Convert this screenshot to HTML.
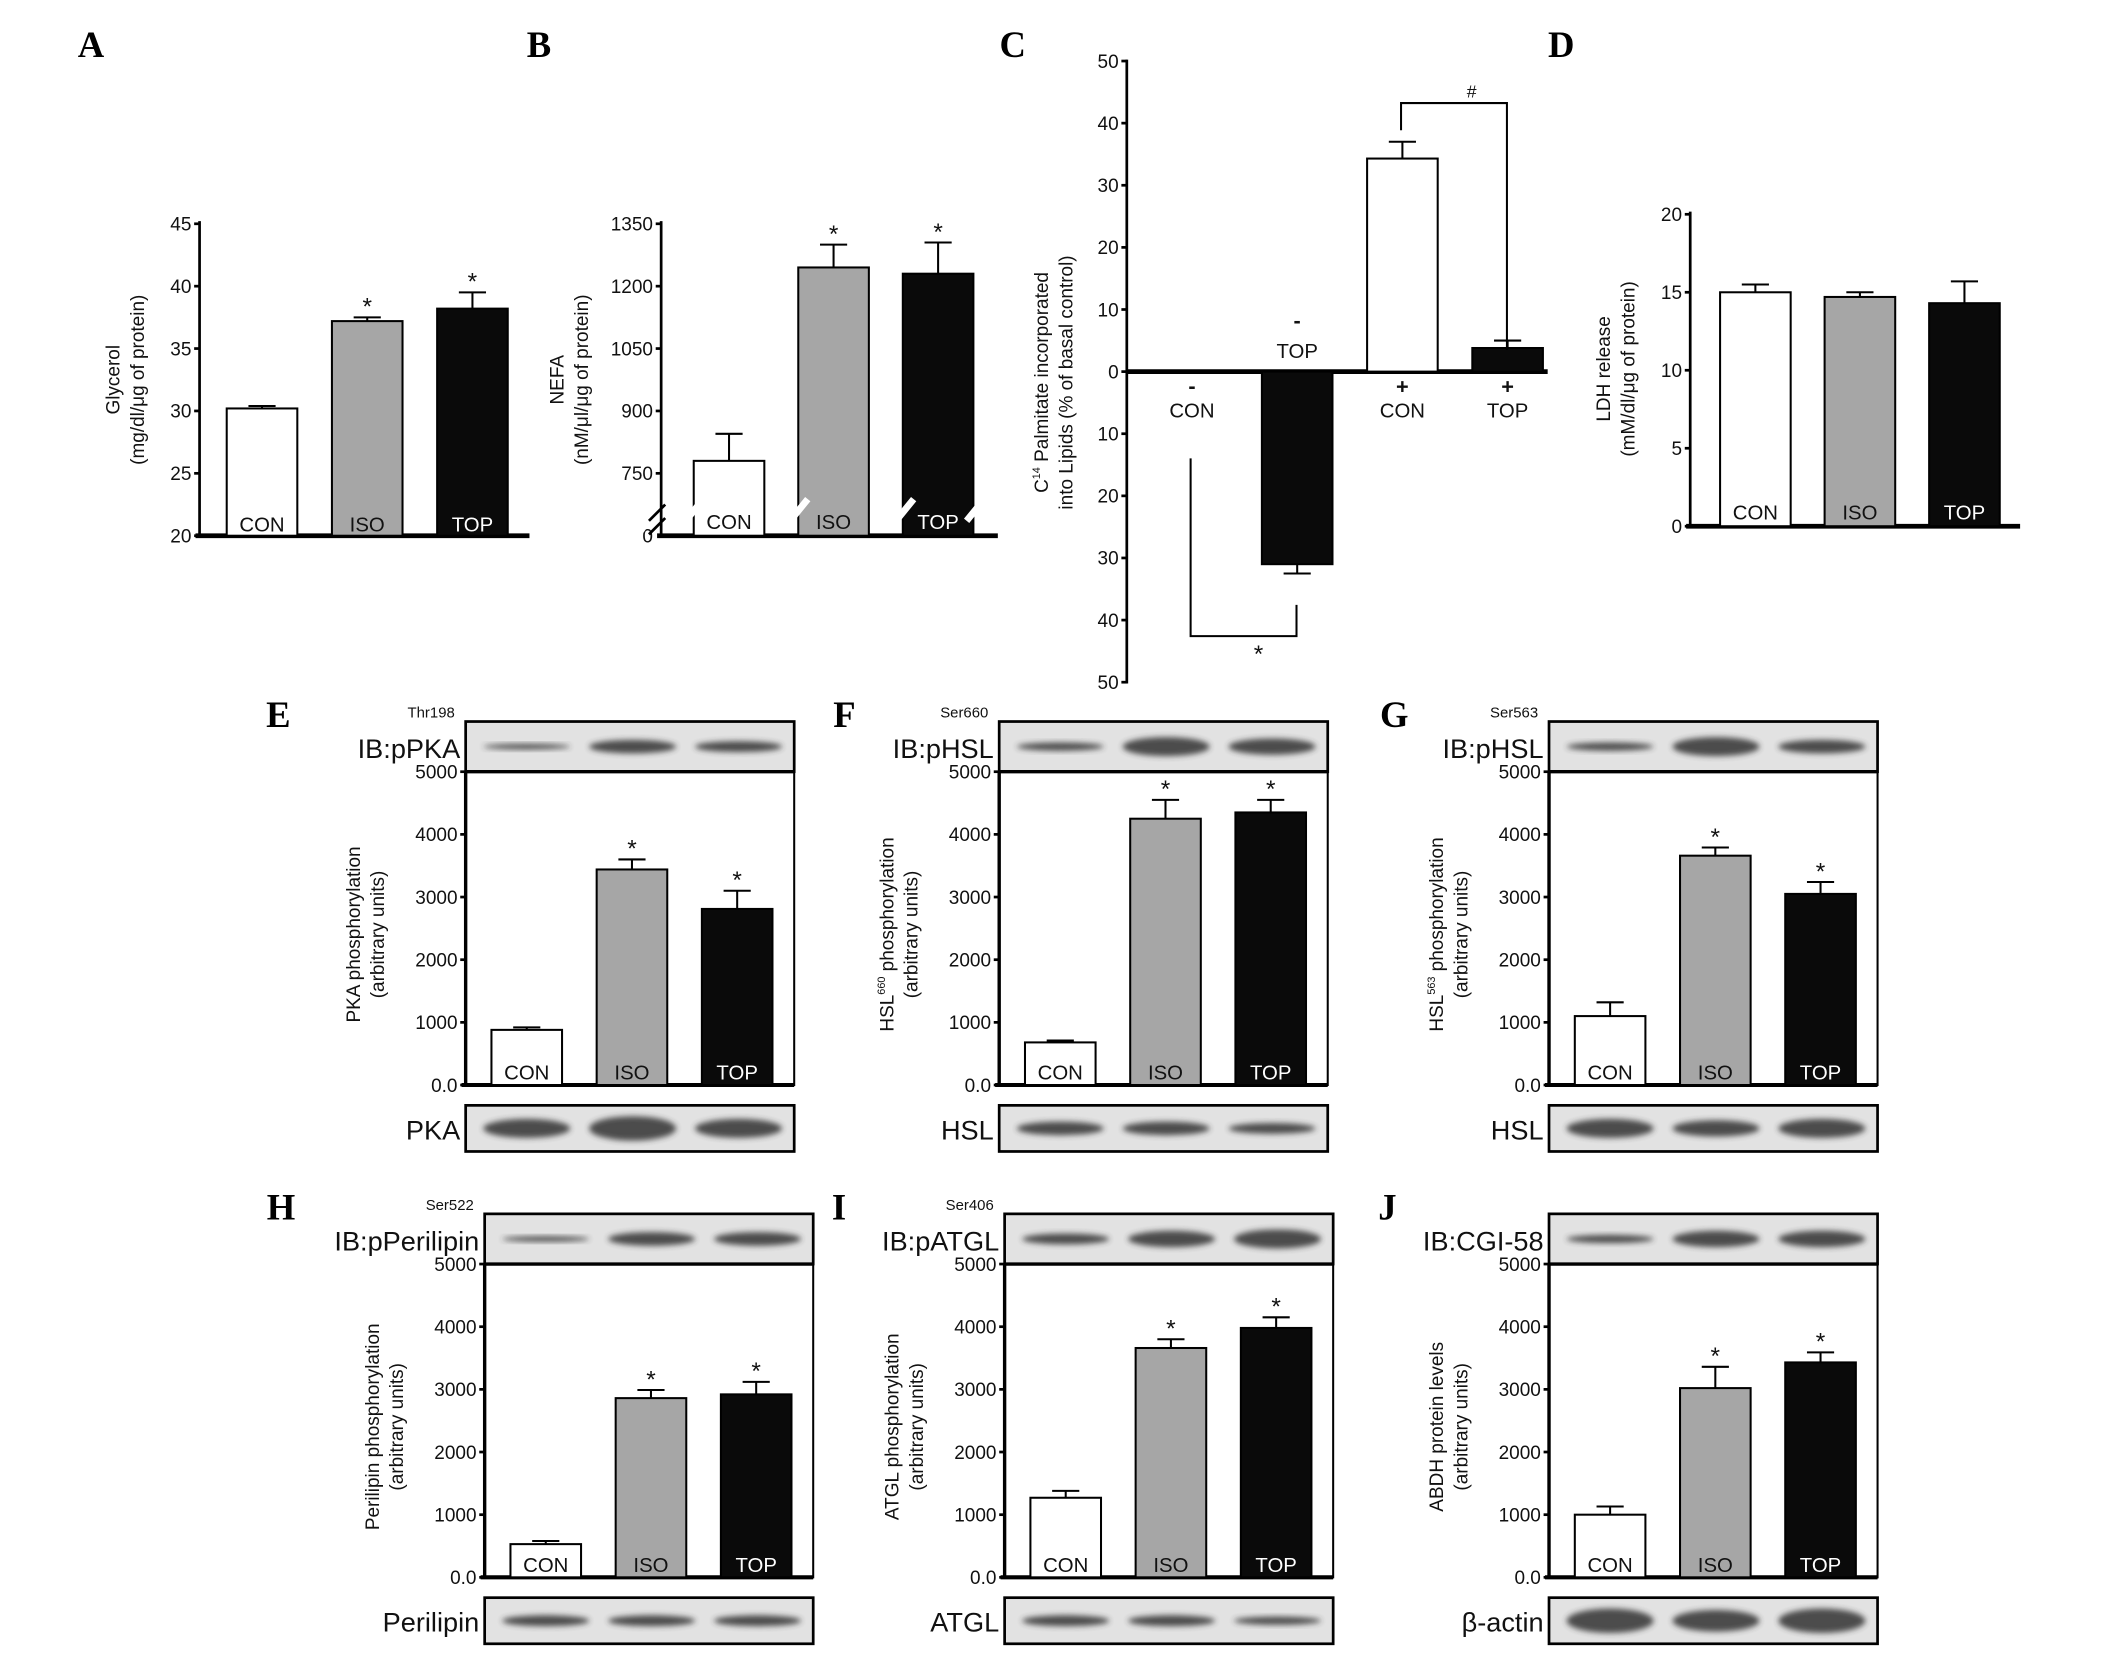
<!DOCTYPE html>
<html><head><meta charset="utf-8">
<style>
html,body{margin:0;padding:0;background:#fff;}
svg{display:block;font-family:"Liberation Sans",Arial,sans-serif;}
.t{font-size:14px;fill:#111;}
.lt{font-family:"Liberation Serif",serif;font-weight:bold;font-size:27px;fill:#000;}
</style></head>
<body>
<svg id="fig" width="2126" height="1656" viewBox="0 0 1566 1221" preserveAspectRatio="none" xmlns="http://www.w3.org/2000/svg">
<defs><filter id="blur" x="-20%" y="-50%" width="140%" height="200%"><feGaussianBlur stdDeviation="2.2"/></filter></defs>
<rect x="0" y="0" width="1566" height="1221" fill="#fff"/>
</svg>
<script>
const groups = ["CON","ISO","TOP"];
const fills = ["#ffffff","#a6a6a6","#0a0a0a"];
const aVals = [30.2, 37.2, 38.2];
const aErrs = [0.2, 0.3, 1.3];
const aTicks = [20,25,30,35,40,45];
const bVals = [780, 1245, 1230];
const bErrs = [65, 55, 75];
const bTicks = [750,900,1050,1200,1350];
const cGroups = ["CON","TOP","CON","TOP"];
const cSigns = ["-","-","+","+"];
const cVals = [0, -31, 34.3, 3.8];
const cErrs = [0, 1.5, 2.7, 1.2];
const cTicks = [-50,-40,-30,-20,-10,0,10,20,30,40,50];
const dVals = [15.0, 14.7, 14.3];
const dErrs = [0.5, 0.3, 1.4];
const dTicks = [0,5,10,15,20];
const wTicks = [0,1000,2000,3000,4000,5000];
const eVals = [880, 3440, 2810];
const eErrs = [40, 160, 290];
const fVals = [680, 4250, 4350];
const fErrs = [30, 300, 200];
const gVals = [1100, 3660, 3050];
const gErrs = [220, 130, 190];
const hVals = [530, 2860, 2920];
const hErrs = [50, 130, 200];
const iVals = [1270, 3660, 3980];
const iErrs = [110, 140, 170];
const jVals = [1000, 3020, 3430];
const jErrs = [130, 340, 160];

const svg = document.getElementById('fig');
const NS = "http://www.w3.org/2000/svg";
function mk(tag, attrs, parent){
  const e = document.createElementNS(NS, tag);
  for (const k in attrs) e.setAttribute(k, attrs[k]);
  (parent||svg).appendChild(e);
  return e;
}
function txt(s, x, y, size, anchor, parent, extra){
  const t = mk('text', Object.assign({x:x, y:y, 'font-size':size, 'text-anchor':anchor||'middle', fill:'#111'}, extra||{}), parent);
  t.textContent = s;
  return t;
}
function lin(d0,d1,p0,p1){ return v => p0 + (v-d0)*(p1-p0)/(d1-d0); }

function panelLetter(s,x,y){
  const t = mk('text',{x:x,y:y,class:'lt','text-anchor':'middle'});
  
  
  t.textContent = s;
}

function yLabel(lines, x, cy, g, size){
  lines.forEach((l,i)=>{
    const t = txt('', x + i*18, cy, size||14, 'middle', g, {transform:`rotate(-90 ${x+i*18} ${cy})`});
    t.innerHTML = l;
    
    
  });
}

function bars(g, name, vals, errs, y, axisX, off, step, w, base, stars, labelY){
  vals.forEach((v,i)=>{
    const x = axisX + off + i*step;
    const top = Math.min(y(v), y(base)), h = Math.abs(y(v)-y(base));
    const r = mk('rect',{x:x,y:top,width:w,height:h,fill:fills[i],stroke:'#000','stroke-width':1.5},g);
    
    
    const ye = y(v+errs[i]);
    const cx = x + w/2;
    const el = mk('path',{d:`M${cx} ${y(v)}V${ye}M${cx-10} ${ye}H${cx+10}`,stroke:'#000','stroke-width':1.5,fill:'none'},g);
    
    
    if (stars && stars[i]){
      const s = txt('*', cx, ye-2, 18, 'middle', g);
      
      
    }
    const lb = txt(groups[i], cx, labelY, 15, 'middle', g, {fill: i==2?'#fff':'#111'});
    
    
  });
}

// Panel A
(function(){
  const g = mk('g',{});  
  panelLetter('A',67,42);
  const y = lin(20,45,395,165), ax=147;
  mk('line',{x1:ax,y1:163,x2:ax,y2:396,stroke:'#000','stroke-width':2},g);
  mk('line',{x1:144,y1:395,x2:390,y2:395,stroke:'#000','stroke-width':3.5},g);
  aTicks.forEach(t=>{ mk('line',{x1:ax-4,y1:y(t),x2:ax,y2:y(t),stroke:'#000','stroke-width':2},g);
    const tl=txt(t,ax-6,y(t)+5,14,'end',g);   });
  bars(g,'a',aVals,aErrs,y,ax,20,77.5,52,20,[0,1,1],392);
  yLabel(['Glycerol','(mg/dl/&#956;g of protein)'],88,280,g);
})();

// Panel B
(function(){
  const g = mk('g',{});  
  panelLetter('B',397,42);
  const y = lin(600,1350,395,165), ax=487;
  mk('line',{x1:ax,y1:163,x2:ax,y2:396,stroke:'#000','stroke-width':2},g);
  mk('line',{x1:484,y1:395,x2:735,y2:395,stroke:'#000','stroke-width':3.5},g);
  bTicks.forEach(t=>{ mk('line',{x1:ax-4,y1:y(t),x2:ax,y2:y(t),stroke:'#000','stroke-width':2},g);
    const tl=txt(t,ax-6,y(t)+5,14,'end',g);   });
  const z=txt('0',ax-6,400,14,'end',g);  
  bars(g,'b',bVals,bErrs,y,ax,24,77,52,600,[0,1,1],390);
  const br = mk('path',{d:'M470 384 L480 370 M470 394 L480 380 M505 384 L518 368 M582 384 L595 368 M660 384 L673 368 M712 384 L725 368',stroke:'#fff','stroke-width':5,fill:'none'},g);
   
  mk('path',{d:'M478 384 L490 372 M478 394 L490 382',stroke:'#000','stroke-width':2,fill:'none'},g);
  yLabel(['NEFA','(nM/&#956;l/&#956;g of protein)'],415,280,g);
})();

// Panel C
(function(){
  const g = mk('g',{});  
  panelLetter('C',746,42);
  const y = lin(-50,50,503,45), ax=830;
  mk('line',{x1:ax,y1:44,x2:ax,y2:504,stroke:'#000','stroke-width':2},g);
  mk('line',{x1:ax,y1:274,x2:1140,y2:274,stroke:'#000','stroke-width':3.5},g);
  cTicks.forEach(t=>{ mk('line',{x1:ax-4,y1:y(t),x2:ax,y2:y(t),stroke:'#000','stroke-width':2},g);
    const tl=txt(Math.abs(t),ax-6,y(t)+5,14,'end',g);   });
  cVals.forEach((v,i)=>{
    const x = 852 + i*77.5, w=52, cx=x+w/2;
    if (v!==0){
      const r = mk('rect',{x:x,y:Math.min(y(v),y(0)),width:w,height:Math.abs(y(v)-y(0)),fill:i==2?'#fff':'#0a0a0a',stroke:'#000','stroke-width':1.5},g);
      
      
      const e = v + (v<0?-cErrs[i]:cErrs[i]);
      const p = mk('path',{d:`M${cx} ${y(v)}V${y(e)}M${cx-10} ${y(e)}H${cx+10}`,stroke:'#000','stroke-width':1.5,fill:'none'},g);
       
    }
    const above = v<0;
    const sy = above?242:290, ly = above?264:308;
    const s1=txt(cSigns[i],cx,sy,16,'middle',g,{'font-weight':'bold'});  
    const s2=txt(cGroups[i],cx,ly,15,'middle',g);  
  });
  const b1 = mk('path',{d:'M877 338V469H955V446',stroke:'#000','stroke-width':1.5,fill:'none'},g);
   
  const s=txt('*',927,488,18,'middle',g);  
  const b2 = mk('path',{d:'M1032 96V76H1110V258',stroke:'#000','stroke-width':1.5,fill:'none'},g);
   
  const h=txt('#',1084,72,13,'middle',g);  
  yLabel(['C<tspan font-size="8" dy="-6">14</tspan><tspan dy="6"> Palmitate incorporated</tspan>','into Lipids (% of basal control)'],772,282,g);
})();

// Panel D
(function(){
  const g = mk('g',{});  
  panelLetter('D',1150,42);
  const y = lin(0,20,388,158), ax=1245;
  mk('line',{x1:ax,y1:156,x2:ax,y2:389,stroke:'#000','stroke-width':2},g);
  mk('line',{x1:1242,y1:388,x2:1488,y2:388,stroke:'#000','stroke-width':3.5},g);
  dTicks.forEach(t=>{ mk('line',{x1:ax-4,y1:y(t),x2:ax,y2:y(t),stroke:'#000','stroke-width':2},g);
    const tl=txt(t,ax-6,y(t)+5,14,'end',g);   });
  bars(g,'d',dVals,dErrs,y,ax,22,77,52,0,null,383);
  yLabel(['LDH release','(mM/dl/&#956;g of protein)'],1186,272,g);
})();

function blot(g, x, y0, w, h, strengths, name){
  const r = mk('rect',{x:x,y:y0,width:w,height:h,fill:'#e2e2e2',stroke:'#000','stroke-width':2},g);
   
  strengths.forEach((s,i)=>{
    const e = mk('ellipse',{cx:x+45+i*78,cy:y0+h/2,rx:32,ry:s,fill:'#333',opacity:0.85,filter:'url(#blur)'},g);
     
  });
}
function wpanel(o){
  const g = mk('g',{});  
  panelLetter(o.letter,o.lx,o.top+4);
  const L=o.x, R=o.x+242, T=o.top+37, B=T+231;
  blot(g,L,o.top,R-L,37,o.topBands,'blot-top');
  blot(g,L,B+15,R-L,34,o.botBands,'blot-loading-control');
  const y = lin(0,5000,B,T);
  mk('rect',{x:L,y:T,width:R-L,height:B-T,fill:'#fff',stroke:'#000','stroke-width':1.5},g);
  mk('line',{x1:L,y1:T,x2:L,y2:B,stroke:'#000','stroke-width':2.5},g);
  mk('line',{x1:L-3,y1:B,x2:R,y2:B,stroke:'#000','stroke-width':3},g);
  mk('line',{x1:L,y1:T,x2:R,y2:T,stroke:'#000','stroke-width':2.5},g);
  wTicks.forEach(t=>{ mk('line',{x1:L-4,y1:y(t),x2:L,y2:y(t),stroke:'#000','stroke-width':2},g);
    const tl=txt(t===0?'0.0':t,L-6,y(t)+5,14,'end',g);   });
  bars(g,o.letter.toLowerCase(),o.vals,o.errs,y,L,19,77.5,52,0,[0,1,1],B-4);
  const ib=txt(o.ib,L-4,o.top+27,20,'end',g);  
  if(o.site){ const st=txt(o.site,L-8,o.top-3,11,'end',g);   }
  const bl=txt(o.bot,L-4,B+40,20,'end',g);  
  yLabel(o.ylab,L-78,T+120,g);
}
const row1=532, row2=895;
wpanel({letter:'E',lx:205,x:343,top:row1,vals:eVals,errs:eErrs,ib:'IB:pPKA',site:'Thr198',bot:'PKA',topBands:[2,5,4],botBands:[7,9,7],ylab:['PKA phosphorylation','(arbitrary units)']});
wpanel({letter:'F',lx:622,x:736,top:row1,vals:fVals,errs:fErrs,ib:'IB:pHSL',site:'Ser660',bot:'HSL',topBands:[3,7,6],botBands:[5,5,4],ylab:['HSL<tspan font-size="8" dy="-6">660</tspan><tspan dy="6"> phosphorylation</tspan>','(arbitrary units)']});
wpanel({letter:'G',lx:1027,x:1141,top:row1,vals:gVals,errs:gErrs,ib:'IB:pHSL',site:'Ser563',bot:'HSL',topBands:[3,7,5],botBands:[7,6,7],ylab:['HSL<tspan font-size="8" dy="-6">563</tspan><tspan dy="6"> phosphorylation</tspan>','(arbitrary units)']});
wpanel({letter:'H',lx:207,x:357,top:row2,vals:hVals,errs:hErrs,ib:'IB:pPerilipin',site:'Ser522',bot:'Perilipin',topBands:[2,5,5],botBands:[4,4,4],ylab:['Perilipin phosphorylation','(arbitrary units)']});
wpanel({letter:'I',lx:618,x:740,top:row2,vals:iVals,errs:iErrs,ib:'IB:pATGL',site:'Ser406',bot:'ATGL',topBands:[4,6,7],botBands:[4,4,3],ylab:['ATGL phosphorylation','(arbitrary units)']});
wpanel({letter:'J',lx:1022,x:1141,top:row2,vals:jVals,errs:jErrs,ib:'IB:CGI-58',site:'',bot:'\u03b2-actin',topBands:[3,6,6],botBands:[9,8,9],ylab:['ABDH protein levels','(arbitrary units)']});
</script>
</body></html>
